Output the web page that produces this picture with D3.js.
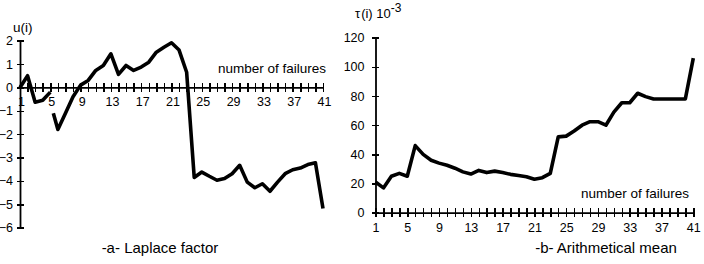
<!DOCTYPE html>
<html>
<head>
<meta charset="utf-8">
<script src="https://cdn.jsdelivr.net/npm/d3@7"></script>
<style>
  body { margin: 0; background: #fff; }
  svg { display: block; font-family: Arial, "Liberation Sans", sans-serif; color: #000; }
  .tick text { font-size: 12.5px; fill: #000; }
  .tick line { stroke: #000; stroke-width: 1.5px; shape-rendering: crispEdges; }
</style>
</head>
<body>
<svg id="chart" width="704" height="264"></svg>
<script>
// -a- Laplace factor (null = break in the curve)
var laplaceX = [1, 2, 3, 4, 5, null, 5.4, 6, 7, 8, 9, 10, 11, 12, 13, 14, 15, 16, 17, 18, 19, 20,
  21, 22, 23, 24, 25, 26, 27, 28, 29, 30, 31, 32, 33, 34, 35, 36, 37, 38, 39, 40, 41];
var laplaceU = [0, 0.5, -0.63, -0.55, -0.2, null, -1.1, -1.8, -1.1, -0.4, 0.1, 0.3, 0.73, 0.94, 1.44, 0.56, 0.94, 0.73, 0.87, 1.08, 1.51, 1.72,
  1.91, 1.6, 0.65, -3.85, -3.62, -3.8, -3.97, -3.9, -3.69, -3.33, -4.05, -4.29, -4.12, -4.44, -4.05, -3.69, -3.52, -3.45, -3.3, -3.22, -5.18];

// -b- Arithmetical mean, tau(i) * 10^-3
var meanX = d3.range(1, 42);
var meanTau = [21, 17, 25, 27, 25, 46, 40, 36, 34, 32.5, 30.5, 28, 26.5, 29, 27.5, 28.5, 27.5, 26.3, 25.5, 24.7,
  23, 24, 27, 52, 52.5, 56, 60, 62.4, 62.4, 60, 69, 75.4, 75.4, 81.9, 79.6, 78, 78, 78, 78, 78, 106];

var xTickLabels = [1, 5, 9, 13, 17, 21, 25, 29, 33, 37, 41];
var laplaceTicks = [-6, -5, -4, -3, -2, -1, 0, 1, 2];
var meanTicks = [0, 20, 40, 60, 80, 100, 120];

var svg = d3.select("#chart");

function fmtX(d) { return xTickLabels.indexOf(d) >= 0 ? d : ""; }

// ticks crossing the axis line on both sides
function crossX(g) {
  g.select(".domain").attr("stroke", "#000").attr("stroke-width", 1.8);
  g.selectAll(".tick line").attr("y1", -4.5).attr("y2", 4.5);
}
function crossY(g) {
  g.select(".domain").attr("stroke", "#000").attr("stroke-width", 1.8);
  g.selectAll(".tick line").attr("x1", 3.5).attr("x2", -3.5);
}

// ---------- left chart ----------
var xa = d3.scaleLinear().domain([1, 41]).range([20, 323]);
var ya = d3.scaleLinear().domain([-6, 2]).range([227.7, 40.7]);

var gA = svg.append("g");

gA.append("g").attr("transform", "translate(0," + ya(0) + ")")
  .call(d3.axisBottom(xa).tickValues(meanX).tickFormat(fmtX).tickSizeInner(4).tickSizeOuter(0).tickPadding(6))
  .call(crossX)
  .selectAll("text").attr("dy", "0.71em").attr("transform", "translate(1,0)");

gA.append("g").attr("transform", "translate(20,0)")
  .call(d3.axisLeft(ya).tickValues(laplaceTicks).tickFormat(d3.format("d")).tickSizeInner(3.5).tickSizeOuter(0).tickPadding(3.5))
  .call(crossY);

var lineA = d3.line()
  .defined(function(d) { return d.u != null; })
  .x(function(d) { return xa(d.x); })
  .y(function(d) { return ya(d.u); });
var dataA = laplaceX.map(function(x, i) { return {x: x, u: laplaceU[i]}; });
gA.append("path").datum(dataA).attr("d", lineA)
  .attr("fill", "none").attr("stroke", "#000").attr("stroke-width", 3.6).attr("stroke-linejoin", "round");

gA.append("text").attr("x", 13).attr("y", 32).attr("font-size", 13.5).text("u(i)");
gA.append("text").attr("x", 326).attr("y", 73).attr("text-anchor", "end").attr("font-size", 13.5).text("number of failures");
gA.append("text").attr("x", 160).attr("y", 253).attr("text-anchor", "middle").attr("font-size", 15).text("-a- Laplace factor");

// ---------- right chart ----------
var xb = d3.scaleLinear().domain([1, 41]).range([375.5, 693.3]);
var yb = d3.scaleLinear().domain([0, 120]).range([212.7, 37.7]);

var gB = svg.append("g");

gB.append("g").attr("transform", "translate(0," + yb(0) + ")")
  .call(d3.axisBottom(xb).tickValues(meanX).tickFormat(fmtX).tickSizeInner(4).tickSizeOuter(0).tickPadding(6))
  .call(crossX)
  .selectAll("text").attr("dy", "0.71em");

gB.append("g").attr("transform", "translate(" + xb(1) + ",0)")
  .call(d3.axisLeft(yb).tickValues(meanTicks).tickFormat(d3.format("d")).tickSizeInner(3.5).tickSizeOuter(0).tickPadding(7.5))
  .call(crossY);

var lineB = d3.line()
  .x(function(d, i) { return xb(meanX[i]); })
  .y(function(d) { return yb(d); });
gB.append("path").datum(meanTau).attr("d", lineB)
  .attr("fill", "none").attr("stroke", "#000").attr("stroke-width", 3.6).attr("stroke-linejoin", "round");

var tauLabel = gB.append("text").attr("x", 355).attr("y", 18).attr("font-size", 13);
tauLabel.append("tspan").text("\u03c4");
tauLabel.append("tspan").attr("dx", 1).text("(i) 10");
tauLabel.append("tspan").attr("dy", -6).attr("font-size", 12).text("-3");

gB.append("text").attr("x", 689).attr("y", 198).attr("text-anchor", "end").attr("font-size", 13.5).text("number of failures");
gB.append("text").attr("x", 606).attr("y", 253).attr("text-anchor", "middle").attr("font-size", 15).text("-b- Arithmetical mean");
</script>
</body>
</html>
